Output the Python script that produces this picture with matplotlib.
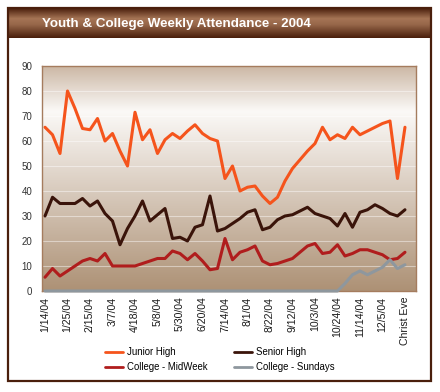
import numpy as np
import matplotlib
matplotlib.use("Agg")
import matplotlib.pyplot as plt
from matplotlib.patches import Rectangle

plt.rcParams['font.family'] = ['Liberation Sans', 'DejaVu Sans']

# ---------------- data ----------------
tick_labels = ["1/14/04", "1/25/04", "2/15/04", "3/7/04", "4/18/04", "5/8/04",
               "5/30/04", "6/20/04", "7/14/04", "8/1/04", "8/22/04", "9/12/04",
               "10/3/04", "10/24/04", "11/14/04", "12/5/04", "Christ Eve"]

junior_high = [65.5, 62.5, 55, 80, 73, 65, 64.5, 69, 60, 63, 56, 50, 71.5, 60.5,
               64.5, 55, 60.5, 63, 61, 64, 66.5, 63, 61, 60, 45, 50, 40, 41.5,
               42, 38, 35, 37.5, 44, 49, 52.5, 56, 59, 65.5, 60.5, 62.5, 61,
               65.5, 62.5, 64, 65.5, 67, 68, 45, 65.5]
senior_high = [30, 37.5, 35, 35, 35, 37, 34, 36, 31, 28, 18.5, 25, 30, 36, 28,
               30.5, 33, 21, 21.5, 20, 25.5, 26.5, 38, 24, 25, 27, 29, 31.5,
               32.5, 24.5, 25.5, 28.5, 30, 30.5, 32, 33.5, 31, 30, 29, 26, 31,
               25.5, 31.5, 32.5, 34.5, 33, 31, 30, 32.5]
college_midweek = [5.5, 9, 6, 8, 10, 12, 13, 12, 15, 10, 10, 10, 10, 11, 12, 13,
                   13, 16, 15, 12.5, 15, 12, 8.5, 9, 21, 12.5, 15.5, 16.5, 18,
                   12, 10.5, 11, 12, 13, 15.5, 18, 19, 15, 15.5, 18.5, 14, 15,
                   16.5, 16.5, 15.5, 14.5, 12.5, 13, 15.5]
college_sundays = [0] * 40 + [3, 6.5, 8, 6.5, 8, 9.5, 12.5, 9, 10.5]

series_names = ["Junior High", "Senior High", "College - MidWeek", "College - Sundays"]
series_colors = ["#f5541c", "#3a140a", "#b01d1d", "#8e979e"]

# ---------------- figure ----------------
W, H = 440, 392
fig = plt.figure(figsize=(W / 100, H / 100), dpi=100)
fig.patch.set_facecolor("white")

def fx(px):
    return px / W

def fy(py):
    return 1 - py / H

# outer frame
frame = Rectangle((fx(7.5), fy(381)), fx(431) - fx(7.5), fy(8) - fy(381),
                  transform=fig.transFigure, facecolor="none",
                  edgecolor="#4a1f0c", linewidth=1.6, zorder=5)
fig.patches.append(frame)

# title bar with vertical gradient
tax = fig.add_axes([fx(7.5), fy(38), fx(431) - fx(7.5), fy(8) - fy(38)])
tax.set_axis_off()
t = np.linspace(0, 1, 64)
c_dark = np.array([0x4a, 0x1f, 0x0c]) / 255
c_light = np.array([0xa5, 0x74, 0x55]) / 255
prof = np.interp(t, [0, 0.35, 0.55, 1.0], [0.0, 1.0, 0.85, 0.0])
grad = c_dark[None, :] + (c_light - c_dark)[None, :] * prof[:, None]
tax.imshow(grad[:, None, :], aspect="auto", extent=[0, 1, 0, 1])
tax.set_xlim(0, 1)
tax.set_ylim(0, 1)
fig.text(fx(42), fy(24), "Youth & College Weekly Attendance - 2004",
         color="white", fontsize=9.6, fontweight="bold", va="center", ha="left")

# main plot axes
L, R, T, B = 42, 416, 66, 291
ax = fig.add_axes([fx(L), fy(B), fx(R) - fx(L), fy(T) - fy(B)])

n = len(junior_high)
x = np.arange(n)

# background gradient
tt = np.linspace(0, 1, 256)
top = np.array([0xcc, 0xb8, 0xa5]) / 255
white = np.array([0xfb, 0xf9, 0xf7]) / 255
bottom = np.array([0xad, 0x91, 0x75]) / 255
bg = np.zeros((256, 3))
for k in range(3):
    bg[:, k] = np.interp(tt, [0, 0.2, 1.0], [top[k], white[k], bottom[k]])
ax.imshow(bg[:, None, :], aspect="auto", extent=[-0.4, 49.47, 0, 90],
          zorder=0, origin="upper")

for yv in range(10, 90, 10):
    ax.axhline(yv, color="white", alpha=0.45, linewidth=0.8, zorder=1)

data = [junior_high, senior_high, college_midweek, college_sundays]
handles = []
for vals, name, col in zip(data, series_names, series_colors):
    h, = ax.plot(x, vals, color=col, linewidth=2.2, label=name, zorder=3,
                 solid_joinstyle="round", solid_capstyle="round", clip_on=False)
    handles.append(h)

ax.set_xlim(-0.4, 49.47)
ax.set_ylim(0, 90)

for s in ax.spines.values():
    s.set_color("#a57c5e")
    s.set_linewidth(1.0)

ax.set_yticks(range(0, 91, 10))
ax.set_xticks(np.arange(0, n, 3))
ax.set_xticklabels(tick_labels, rotation=90, fontsize=7.6, color="#1a1a1a")
ax.tick_params(axis="both", length=0)
ax.tick_params(axis="y", labelsize=7, colors="#333333", pad=7)
ax.tick_params(axis="x", pad=4)

leg = fig.legend([handles[0], handles[2], handles[1], handles[3]],
                 [series_names[0], series_names[2], series_names[1], series_names[3]],
                 ncol=2, loc="upper left", bbox_to_anchor=(fx(105), fy(347)),
                 frameon=False, fontsize=6.9, handlelength=1.9,
                 handletextpad=0.4, columnspacing=2.7, labelspacing=0.55,
                 borderpad=0, borderaxespad=0)
for lh in leg.get_lines():
    lh.set_linewidth(2.0)

fig.savefig("out.png", dpi=100, facecolor="white")
